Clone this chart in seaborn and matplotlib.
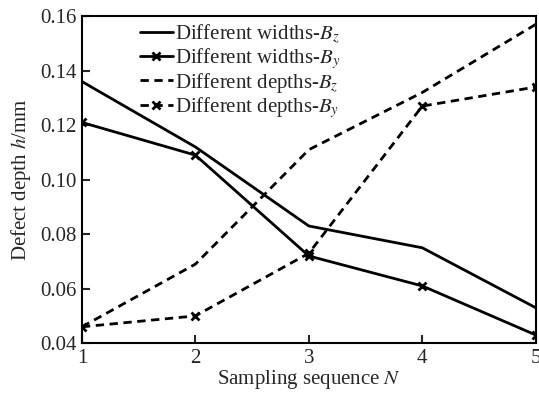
import matplotlib
matplotlib.use("Agg")
import matplotlib.pyplot as plt
import seaborn as sns
import pandas as pd

sns.set_style("ticks")
plt.rcParams['font.family'] = ['Liberation Serif', 'DejaVu Serif']
plt.rcParams['mathtext.fontset'] = 'stix'

N = [1, 2, 3, 4, 5]
widths_Bz = [0.136, 0.112, 0.083, 0.075, 0.053]
widths_By = [0.121, 0.109, 0.072, 0.061, 0.043]
depths_Bz = [0.046, 0.069, 0.111, 0.132, 0.157]
depths_By = [0.046, 0.050, 0.073, 0.127, 0.134]

labels = ['Different widths-$B_z$', 'Different widths-$B_y$',
          'Different depths-$B_z$', 'Different depths-$B_y$']
series = [widths_Bz, widths_By, depths_Bz, depths_By]

rows = []
for lab, vals in zip(labels, series):
    for n, v in zip(N, vals):
        rows.append({'N': n, 'h': v, 'series': lab})
df = pd.DataFrame(rows)

dashes = {labels[0]: '', labels[1]: '', labels[2]: (3, 2), labels[3]: (3, 2)}
markers = {labels[0]: '', labels[1]: 'x', labels[2]: '', labels[3]: 'x'}
palette = {l: 'black' for l in labels}

fig = plt.figure(figsize=(5.39, 3.94), dpi=100)
ax = fig.add_axes([0.152, 0.129, 0.842, 0.830])

sns.lineplot(data=df, x='N', y='h', hue='series', style='series',
             hue_order=labels, style_order=labels, palette=palette,
             dashes=dashes, markers=markers, markersize=6,
             markeredgewidth=2, markeredgecolor='black', linewidth=2, ax=ax)

ax.set_xlim(1, 5)
ax.set_ylim(0.04, 0.16)
ax.set_xticks(N)
ax.set_yticks([0.04, 0.06, 0.08, 0.10, 0.12, 0.14, 0.16])
ax.set_yticklabels(['0.04', '0.06', '0.08', '0.10', '0.12', '0.14', '0.16'])
ax.tick_params(direction='in', length=6, width=1.5, labelsize=15, pad=4)
for s in ax.spines.values():
    s.set_linewidth(1.5)
    s.set_color('black')
ax.set_xlabel('Sampling sequence $N$', fontsize=15, labelpad=0)
ax.set_ylabel('Defect depth $h$/mm', fontsize=15, labelpad=5)
leg = ax.legend(loc='upper left', bbox_to_anchor=(0.1, 1.02), frameon=False,
                fontsize=15, handlelength=1.6, handletextpad=0.1,
                labelspacing=0.0, borderaxespad=0.2)
for h in leg.get_lines():
    h.set_linewidth(2)
fig.savefig('out.png', dpi=100)
